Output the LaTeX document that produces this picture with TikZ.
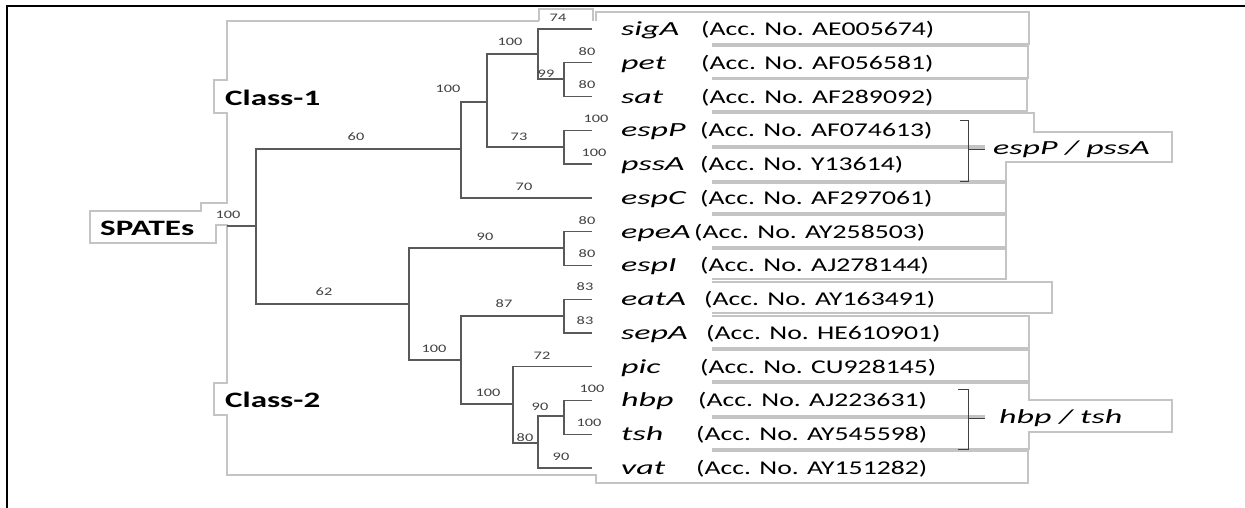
\documentclass[tikz,border=0pt]{standalone}
\usepackage{fontspec}
\usepackage{xcolor}
\setmainfont{Carlito}
\newfontfamily\accfont{Carlito}[FakeStretch=1.42]
\newfontfamily\genefont{Carlito}[FakeStretch=1.7]
\newfontfamily\grpfont{Carlito}[FakeStretch=1.5]
\definecolor{treegray}{HTML}{595959}
\definecolor{boxgray}{HTML}{C4C4C4}
\definecolor{bootgray}{HTML}{404040}

\begin{document}
\begin{tikzpicture}[x=1pt,y=-1pt,
  branch/.style={draw=treegray,line width=1.3pt},
  boxline/.style={draw=boxgray,line width=1.1pt},
  bracket/.style={draw=bootgray,line width=1pt},
  boot/.style={text=bootgray,inner sep=0pt,font=\accfont\fontsize{11.5}{12}\selectfont},
  gene/.style={anchor=base west,inner sep=0pt,font=\genefont\itshape\fontsize{20}{22}\selectfont},
  acc/.style={anchor=base west,inner sep=0pt,font=\accfont\fontsize{19.5}{21}\selectfont},
  grp/.style={anchor=base west,inner sep=0pt,font=\grpfont\bfseries\fontsize{22}{24}\selectfont}]
\useasboundingbox (0,0) rectangle (1245,508);
\draw[line width=2.5pt] (7,508) -- (7,6) -- (1245,6);

% grey outlines of the text boxes
\draw[boxline] (539,21) -- (227,21) -- (227,80) -- (214,80) -- (214,113) -- (227,113) -- (227,203) -- (201,203) -- (201,211) -- (90,211) -- (90,243) -- (216,243) -- (216,225) -- (227,225) -- (227,383) -- (214,383) -- (214,415) -- (227,415) -- (227,475) -- (596,475) -- (596,483) -- (1028,483) -- (1028,451) -- (712,451);
\draw[boxline] (539,21) -- (539,9) -- (593,9) -- (593,21);
\draw[boxline] (596,21) -- (596,12) -- (1029,12) -- (1029,44) -- (712,44);
\draw[boxline] (712,46) -| (1028,78) -- (712,78);
\draw[boxline] (712,79) -| (1027,111) -- (712,111);
\draw[boxline] (712,113) -- (1034,113) -- (1034,132) -- (1172,132) -- (1172,162) -- (1006,162) -- (1006,181) -- (712,181);
\draw[boxline] (712,146) -- (985,146) (712,148) -- (985,148);
\draw[boxline] (712,183) -| (1006,213) -- (712,213);
\draw[boxline] (712,215) -| (1006,247) -- (712,247);
\draw[boxline] (712,249) -| (1006,279) -- (712,279);
\draw[boxline] (712,282) -| (1052,313) -- (712,313);
\draw[boxline] (712,316) -| (1029,348) -- (712,348);
\draw[boxline] (712,350) -| (1029,381) -- (712,381);
\draw[boxline] (712,383) -- (1029,383) -- (1029,400) -- (1172,400) -- (1172,432) -- (1029,432) -- (1029,449) -- (712,449);
\draw[boxline] (712,416) -- (985,416) (712,418) -- (985,418);

% group labels
\node[grp] (spates) at (100,235) {SPATEs};
\node[grp] (class1) at (225,106) {Class-1};
\node[grp] (class2) at (225,407) {Class-2};

% leaves
\foreach \gname/\accno/\ax [count=\i from 0] in {sigA/AE005674/701, pet/AF056581/701,
  sat/AF289092/701, espP/AF074613/700, pssA/Y13614/700, espC/AF297061/700,
  epeA/AY258503/694, espI/AJ278144/700, eatA/AY163491/704, sepA/HE610901/706,
  pic/CU928145/700, hbp/AJ223631/698, tsh/AY545598/696, vat/AY151282/696} {
  \coordinate (t\i) at (592,{29+33.77*\i});
  \node[gene] (g\i) at (621,{35.5+33.77*\i}) {\gname};
  \node[acc] (c\i) at (\ax,{35.5+33.77*\i}) {(Acc. No. \accno)};
}

% inner nodes
\coordinate (stem) at (227,226);
\coordinate (root) at (256,226);
\coordinate (cl1) at (461,149);
\coordinate (cl2) at (409,304);
\coordinate (a1) at (487,102);
\coordinate (a2) at (538,54);
\coordinate (a3) at (564,79);
\coordinate (a4) at (564,147);
\coordinate (b1) at (564,248);
\coordinate (b2) at (461,360);
\coordinate (b3) at (564,316);
\coordinate (b4) at (513,404);
\coordinate (b5) at (538,443);
\coordinate (b6) at (564,416);

\draw[branch] (stem) -- (root);
\draw[branch] (root) |- (cl1);
\draw[branch] (root) |- (cl2);
\draw[branch] (cl1) |- (a1);
\draw[branch] (cl1) |- (t5);
\draw[branch] (a1) |- (a2);
\draw[branch] (a1) |- (a4);
\draw[branch] (a2) |- (t0);
\draw[branch] (a2) |- (a3);
\draw[branch] (a3) |- (t1);
\draw[branch] (a3) |- (t2);
\draw[branch] (a4) |- (t3);
\draw[branch] (a4) |- (t4);
\draw[branch] (cl2) |- (b1);
\draw[branch] (cl2) |- (b2);
\draw[branch] (b1) |- (t6);
\draw[branch] (b1) |- (t7);
\draw[branch] (b2) |- (b3);
\draw[branch] (b2) |- (b4);
\draw[branch] (b3) |- (t8);
\draw[branch] (b3) |- (t9);
\draw[branch] (b4) |- (t10);
\draw[branch] (b4) |- (b5);
\draw[branch] (b5) |- (b6);
\draw[branch] (b5) |- (t13);
\draw[branch] (b6) |- (t11);
\draw[branch] (b6) |- (t12);

% bootstrap values
\foreach \bx/\by/\bv in {228/215/100, 356/137/60, 324/292/62, 448/89/100, 524/187/70,
  510/42/100, 519/137/73, 558/18/74, 546/74/99, 587/52/80, 587/85/80, 596/119/100,
  594/153/100, 485/237/90, 587/221/80, 587/254/80, 434/349/100, 504/304/87,
  585/287/83, 585/321/83, 488/393/100, 542/356/72, 525/438/80, 540/407/90,
  561/457/90, 592/389/100, 589/423/100}
  \node[boot] (bs-\bx-\by) at (\bx,\by) {\bv};

% brackets
\coordinate (brA) at (968,150);
\coordinate (brB) at (968,418);
\draw[bracket] (960,121) -- (968,121) -- (968,181) -- (960,181);
\draw[bracket] (958,389) -- (968,389) -- (968,449) -- (958,449);
\node[gene] (grpA) at (993,154) {espP / pssA};
\node[gene] (grpB) at (999,423) {hbp / tsh};
\draw[bracket] (brA) -- ([xshift=-8pt]grpA.west |- brA);
\draw[bracket] (brB) -- ([xshift=-14pt]grpB.west |- brB);
\end{tikzpicture}
\end{document}
